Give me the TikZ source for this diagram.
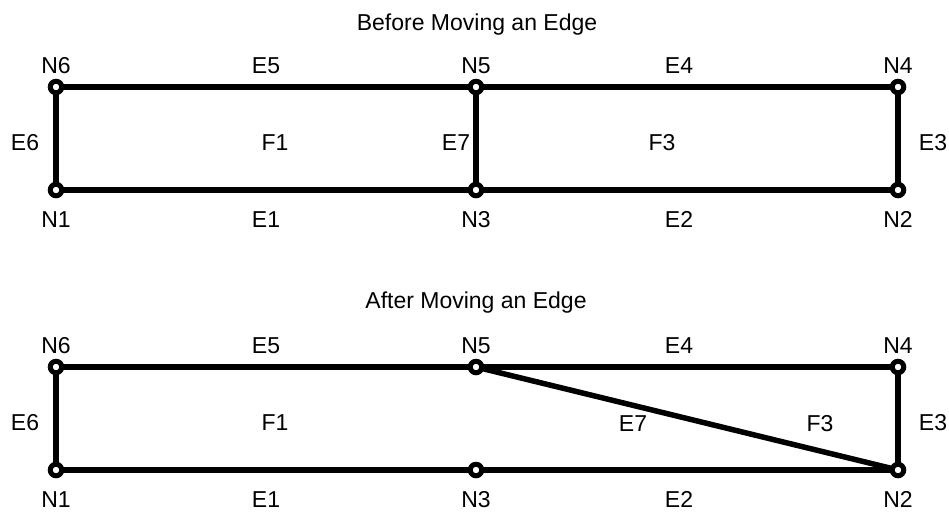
\documentclass[tikz,border=0pt]{standalone}
\usepackage{fontspec}
\setmainfont{Liberation Sans}
\usetikzlibrary{backgrounds}

\tikzset{
    vertex/.style={circle, draw=black, fill=white, line width=5pt,
                   inner sep=0pt, minimum size=11.5pt},
    edge/.style={draw=black, line width=5.5pt},
    lbl/.style={font=\fontsize{23}{27}\selectfont, inner sep=0pt,
                text height=16.5pt, text depth=0pt}
}

\begin{document}
\begin{tikzpicture}[x=1pt, y=-1pt]
            \useasboundingbox (0,0) rectangle (949,512);

            % before
            \node[lbl] (title1) at (477,22) {Before Moving an Edge};
            \node[vertex] (a6) at (56,87) {};
            \node[vertex] (a5) at (476,87) {};
            \node[vertex] (a4) at (898,87) {};
            \node[vertex] (a1) at (56,190) {};
            \node[vertex] (a3) at (476,190) {};
            \node[vertex] (a2) at (898,190) {};
            \begin{scope}[on background layer]
                \draw[edge] (a6.center) -- (a5.center) -- (a4.center) -- (a2.center)
                    -- (a3.center) -- (a1.center) -- (a6.center);
                \draw[edge] (a5.center) -- (a3.center);
            \end{scope}
            \node[lbl] (a6l) at (56,65) {N6};
            \node[lbl] (a5l) at (476,65) {N5};
            \node[lbl] (a4l) at (898,65) {N4};
            \node[lbl] (a1l) at (56,219) {N1};
            \node[lbl] (a3l) at (476,219) {N3};
            \node[lbl] (a2l) at (898,219) {N2};
            \node[lbl] (ae5) at (266,65) {E5};
            \node[lbl] (ae4) at (679,65) {E4};
            \node[lbl] (ae1) at (266,219) {E1};
            \node[lbl] (ae2) at (679,219) {E2};
            \node[lbl] (ae6) at (25,142) {E6};
            \node[lbl] (ae7) at (456,142) {E7};
            \node[lbl] (ae3) at (933,142) {E3};
            \node[lbl] (af1) at (275,142) {F1};
            \node[lbl] (af3) at (662,142) {F3};

            % after
            \node[lbl] (title2) at (476,300) {After Moving an Edge};
            \node[vertex] (b6) at (56,367) {};
            \node[vertex] (b5) at (476,367) {};
            \node[vertex] (b4) at (898,367) {};
            \node[vertex] (b1) at (56,470) {};
            \node[vertex] (b3) at (476,470) {};
            \node[vertex] (b2) at (898,470) {};
            \begin{scope}[on background layer]
                \draw[edge] (b6.center) -- (b5.center) -- (b4.center) -- (b2.center)
                    -- (b3.center) -- (b1.center) -- (b6.center);
                \draw[edge] (b5.center) -- (b2.center);
            \end{scope}
            \node[lbl] (b6l) at (56,345) {N6};
            \node[lbl] (b5l) at (476,345) {N5};
            \node[lbl] (b4l) at (898,345) {N4};
            \node[lbl] (b1l) at (56,499) {N1};
            \node[lbl] (b3l) at (476,499) {N3};
            \node[lbl] (b2l) at (898,499) {N2};
            \node[lbl] (be5) at (266,345) {E5};
            \node[lbl] (be4) at (679,345) {E4};
            \node[lbl] (be1) at (266,499) {E1};
            \node[lbl] (be2) at (679,499) {E2};
            \node[lbl] (be6) at (25,422) {E6};
            \node[lbl] (be7) at (633,423) {E7};
            \node[lbl] (be3) at (933,422) {E3};
            \node[lbl] (bf1) at (275,422) {F1};
            \node[lbl] (bf3) at (820,423) {F3};
        \end{tikzpicture}
\end{document}
